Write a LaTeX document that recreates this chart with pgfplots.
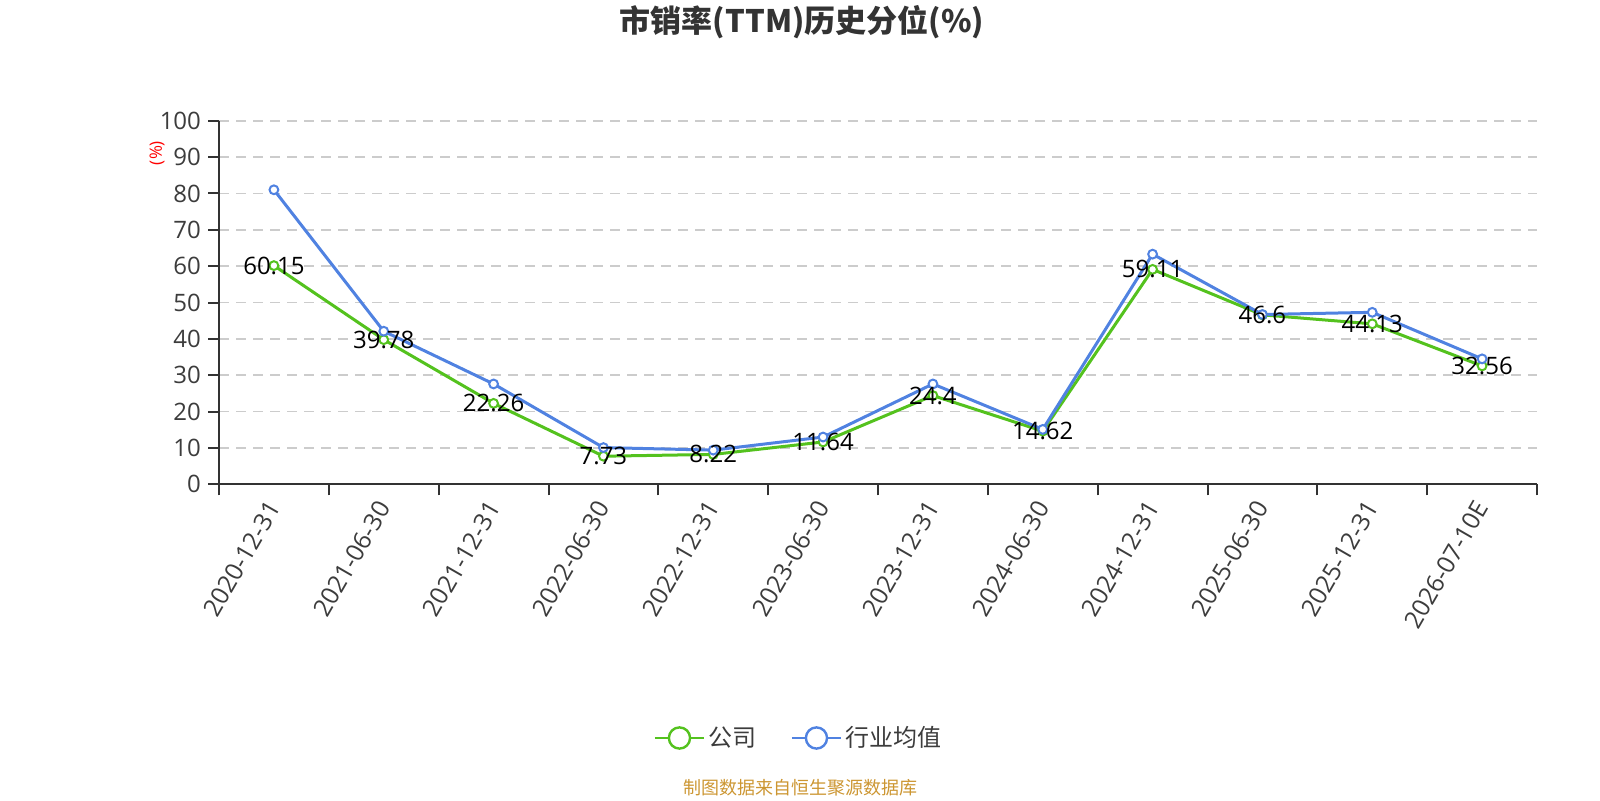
\documentclass[border=0pt]{standalone}
\usepackage{pgfplots}
\pgfplotsset{compat=1.18}
\usepackage{fontspec}
\setmainfont{Open Sans}
\newfontfamily\cjk{Noto Sans CJK SC}
\definecolor{cgreen}{RGB}{84,194,30}
\definecolor{cblue}{RGB}{80,130,225}
\definecolor{axiscol}{RGB}{51,51,51}
\definecolor{labcol}{RGB}{60,60,60}
\definecolor{gridcol}{RGB}{204,204,204}
\definecolor{srccol}{RGB}{204,150,50}
\begin{document}
\begin{tikzpicture}
\useasboundingbox (0,0) rectangle (800pt,400pt);
\begin{axis}[
  at={(109.5pt,157.85pt)}, anchor=south west,
  scale only axis, width=659pt, height=181.8pt,
  xmin=-0.5, xmax=11.5, ymin=0, ymax=100,
  axis x line*=bottom, axis y line*=left,
  axis line style={-, draw=axiscol, line width=1pt},
  /pgf/number format/assume math mode=true,
  xtick={-0.5,0.5,...,11.5}, xticklabels={},
  extra x ticks={0,1,...,11},
  extra x tick labels={2020-12-31,2021-06-30,2021-12-31,2022-06-30,2022-12-31,2023-06-30,2023-12-31,2024-06-30,2024-12-31,2025-06-30,2025-12-31,2026-07-10E},
  extra x tick style={tick style={draw=none}, grid=none},
  x tick label style={rotate=60, anchor=east, font=\fontsize{12.3}{14}\selectfont, text=labcol, yshift=-2pt},
  ytick={0,10,...,100},
  y tick label style={font=\fontsize{12}{14}\selectfont, text=labcol},
  tick align=outside, major tick length=5.5pt,
  tick style={draw=axiscol, line width=1pt},
  ymajorgrids,
  grid style={gridcol, line width=0.8pt, dash pattern=on 5pt off 3.5pt},
  legend style={at={(0.4408,-0.6977)}, anchor=center, draw=none, fill=none,
    font=\cjk\fontsize{12}{14}\selectfont, text=labcol, legend columns=2,
    /tikz/every even column/.append style={column sep=15pt}},
  legend cell align=left,
  clip=false,
]
\addplot[cgreen, line width=1.5pt, mark=*, mark size=2.2pt,
  mark options={fill=white, line width=1pt},
  legend image code/.code={\draw[line width=1pt] (0pt,0pt) -- (24.5pt,0pt); \draw[fill=white,line width=1.2pt] (12.25pt,0pt) circle (5.3pt);}]
  coordinates {(0,60.15) (1,39.78) (2,22.26) (3,7.73) (4,8.22) (5,11.64) (6,24.4) (7,14.62) (8,59.11) (9,46.6) (10,44.13) (11,32.56)};
\addlegendentry{公司}
\addplot[cblue, line width=1.5pt, mark=*, mark size=2.2pt,
  mark options={fill=white, line width=1pt},
  legend image code/.code={\draw[line width=1pt] (0pt,0pt) -- (24.5pt,0pt); \draw[fill=white,line width=1.2pt] (12.25pt,0pt) circle (5.3pt);}]
  coordinates {(0,81.0) (1,42.1) (2,27.6) (3,10.1) (4,9.4) (5,13.0) (6,27.6) (7,15.1) (8,63.3) (9,46.7) (10,47.3) (11,34.5)};
\addlegendentry{行业均值}
\addplot[draw=none, mark=none, forget plot,
  nodes near coords, point meta=y,
  every node near coord/.append style={anchor=center, text=black, font=\fontsize{12}{14}\selectfont}]
  coordinates {(0,60.15) (1,39.78) (2,22.26) (3,7.73) (4,8.22) (5,11.64) (6,24.4) (7,14.62) (8,59.11) (9,46.6) (10,44.13) (11,32.56)};
\end{axis}
\node[font=\cjk\bfseries\fontsize{15.5}{19}\selectfont, text=axiscol] at (401pt,389pt) {市销率(TTM)历史分位(\%)};
\node[rotate=90, font=\fontsize{8.5}{10}\selectfont, text=red] at (78.5pt,323.5pt) {(\%)};
\node[font=\cjk\fontsize{9}{11}\selectfont, text=srccol] at (400pt,6pt) {制图数据来自恒生聚源数据库};
\end{tikzpicture}
\end{document}
